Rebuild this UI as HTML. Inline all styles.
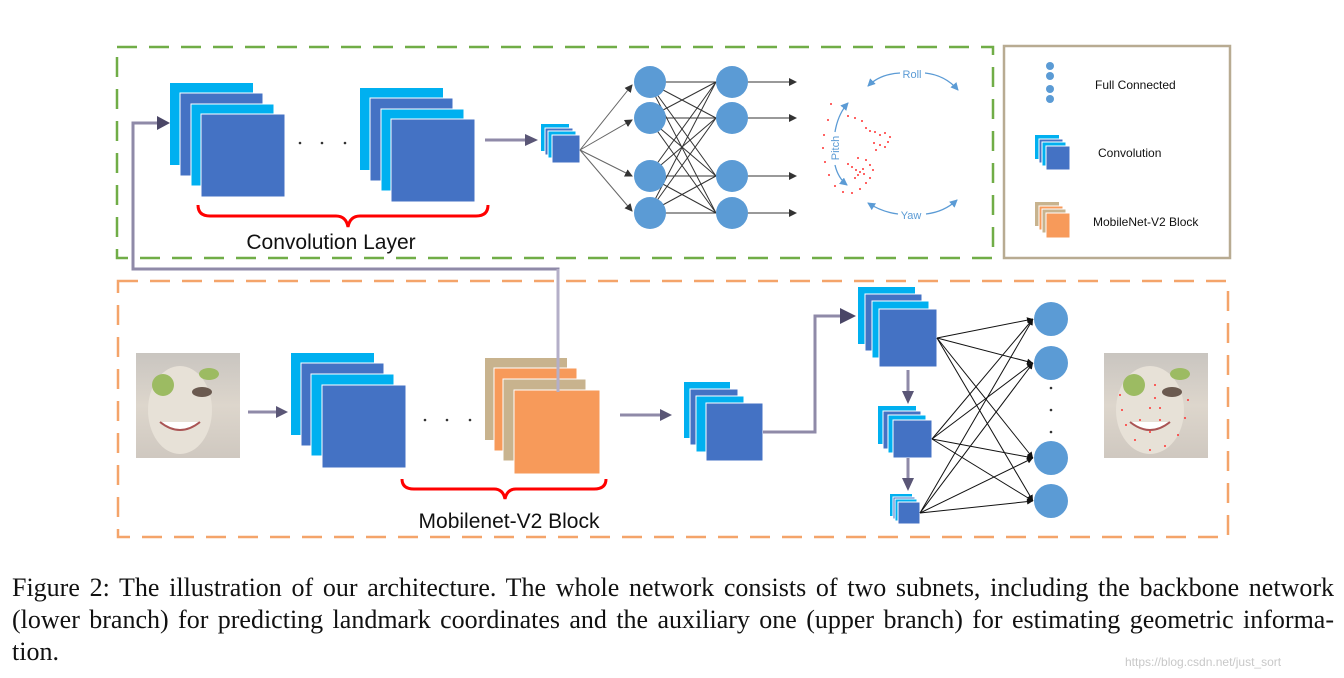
<!DOCTYPE html>
<html><head><meta charset="utf-8"><style>
body{margin:0;background:#fff;width:1344px;height:678px;overflow:hidden}
.cap{position:absolute;left:12px;width:1322px;font-family:"Liberation Serif",serif;font-size:26px;color:#111;white-space:nowrap;text-align:justify;text-align-last:justify}
</style></head><body>
<svg width="1344" height="678" style="position:absolute;left:0;top:0" font-family="Liberation Sans, sans-serif">
<defs>
<marker id="ah" markerWidth="8" markerHeight="8" refX="7" refY="4" orient="auto" markerUnits="userSpaceOnUse"><path d="M0,0 L8,4 L0,8z" fill="#333"/></marker>
<marker id="ahs" markerWidth="6" markerHeight="6" refX="6" refY="3" orient="auto" markerUnits="userSpaceOnUse"><path d="M0,0 L6,3 L0,6z" fill="#111"/></marker>
<marker id="ahb" markerWidth="8" markerHeight="8" refX="7" refY="4" orient="auto" markerUnits="userSpaceOnUse"><path d="M0,0 L8,4 L0,8z" fill="#5b9bd5"/></marker>
<linearGradient id="face" x1="0" y1="0" x2="0" y2="1"><stop offset="0" stop-color="#c9c5c0"/><stop offset="0.5" stop-color="#ddd6cc"/><stop offset="1" stop-color="#cfc8c0"/></linearGradient>
</defs>
<rect x="117" y="47" width="876" height="211" fill="none" stroke="#70ad47" stroke-width="2.5" stroke-dasharray="20,12"/>
<rect x="1004" y="46" width="226" height="212" fill="none" stroke="#b8ab92" stroke-width="2.5"/>
<rect x="118" y="281" width="1110" height="256" fill="none" stroke="#f4a46a" stroke-width="2.5" stroke-dasharray="20,12"/>
<polyline points="558,392 558,269 133,269 133,123 160,123" fill="none" stroke="#8f8aa8" stroke-width="3"/>
<path d="M157,116 L170,123 L157,130z" fill="#4a4666"/>
<rect x="170" y="83" width="83" height="82" fill="#00b0f0"/><rect x="180" y="93" width="83" height="83" fill="#4472c4" stroke="#fff"/>
<rect x="191" y="104" width="83" height="82" fill="#00b0f0" stroke="#fff"/><rect x="201" y="114" width="84" height="83" fill="#4472c4" stroke="#fff"/>
<rect x="360" y="88" width="83" height="82" fill="#00b0f0"/><rect x="370" y="98" width="83" height="83" fill="#4472c4" stroke="#fff"/>
<rect x="381" y="109" width="83" height="82" fill="#00b0f0" stroke="#fff"/><rect x="391" y="119" width="84" height="83" fill="#4472c4" stroke="#fff"/>
<circle cx="300" cy="143" r="1.3" fill="#333"/><circle cx="322" cy="143" r="1.3" fill="#333"/><circle cx="345" cy="143" r="1.3" fill="#333"/>
<path d="M198,205 Q198,216 210,216 L336,216 Q346,216 348,227 Q350,216 360,216 L476,216 Q488,216 488,205" fill="none" stroke="#ff0000" stroke-width="3"/>
<text x="331" y="249" font-size="21" text-anchor="middle" fill="#111">Convolution Layer</text>
<line x1="485" y1="140" x2="528" y2="140" stroke="#8f8aa8" stroke-width="3"/><path d="M525,134 L538,140 L525,146z" fill="#5a5676"/>
<rect x="541" y="124" width="28" height="27" fill="#00b0f0"/><rect x="545" y="128" width="28" height="27" fill="#4472c4" stroke="#fff"/>
<rect x="548" y="131" width="28" height="27" fill="#00b0f0" stroke="#fff"/><rect x="552" y="135" width="28" height="28" fill="#4472c4" stroke="#fff"/>
<g stroke="#666" stroke-width="1">
<line x1="580" y1="150" x2="632" y2="85" marker-end="url(#ah)"/><line x1="580" y1="150" x2="632" y2="120" marker-end="url(#ah)"/>
<line x1="580" y1="150" x2="632" y2="176" marker-end="url(#ah)"/><line x1="580" y1="150" x2="632" y2="211" marker-end="url(#ah)"/>
</g>
<g stroke="#333" stroke-width="1">
<line x1="648" y1="82" x2="716" y2="82"/><line x1="648" y1="82" x2="716" y2="118"/><line x1="648" y1="82" x2="716" y2="176"/><line x1="648" y1="82" x2="716" y2="213"/>
<line x1="648" y1="118" x2="716" y2="82"/><line x1="648" y1="118" x2="716" y2="118"/><line x1="648" y1="118" x2="716" y2="176"/><line x1="648" y1="118" x2="716" y2="213"/>
<line x1="648" y1="176" x2="716" y2="82"/><line x1="648" y1="176" x2="716" y2="118"/><line x1="648" y1="176" x2="716" y2="176"/><line x1="648" y1="176" x2="716" y2="213"/>
<line x1="648" y1="213" x2="716" y2="82"/><line x1="648" y1="213" x2="716" y2="118"/><line x1="648" y1="213" x2="716" y2="176"/><line x1="648" y1="213" x2="716" y2="213"/>
<line x1="732" y1="82" x2="796" y2="82" marker-end="url(#ah)"/><line x1="732" y1="118" x2="796" y2="118" marker-end="url(#ah)"/>
<line x1="732" y1="176" x2="796" y2="176" marker-end="url(#ah)"/><line x1="732" y1="213" x2="796" y2="213" marker-end="url(#ah)"/>
</g>
<g fill="#5b9bd5">
<circle cx="650" cy="82" r="16"/><circle cx="650" cy="118" r="16"/><circle cx="650" cy="176" r="16"/><circle cx="650" cy="213" r="16"/>
<circle cx="732" cy="82" r="16"/><circle cx="732" cy="118" r="16"/><circle cx="732" cy="176" r="16"/><circle cx="732" cy="213" r="16"/>
</g>
<g fill="none" stroke="#5b9bd5" stroke-width="1.3">
<path d="M900,73 Q880,74 868,86" marker-end="url(#ahb)"/><path d="M925,73 Q945,75 958,90" marker-end="url(#ahb)"/>
<path d="M835,132 Q838,114 848,103" marker-end="url(#ahb)"/><path d="M835,165 Q838,178 847,185" marker-end="url(#ahb)"/>
<path d="M898,214 Q882,212 868,203" marker-end="url(#ahb)"/><path d="M926,214 Q944,212 957,200" marker-end="url(#ahb)"/>
</g>
<text x="912" y="78" font-size="11" fill="#5b9bd5" text-anchor="middle">Roll</text>
<text x="911" y="219" font-size="11" fill="#5b9bd5" text-anchor="middle">Yaw</text>
<text transform="translate(839,148) rotate(-90)" font-size="11" fill="#5b9bd5" text-anchor="middle">Pitch</text>
<g fill="#f33">
<circle cx="831" cy="104" r="1"/><circle cx="828" cy="120" r="1"/><circle cx="824" cy="135" r="1"/><circle cx="823" cy="148" r="1"/><circle cx="825" cy="162" r="1"/><circle cx="829" cy="175" r="1"/><circle cx="835" cy="186" r="1"/><circle cx="843" cy="192" r="1"/><circle cx="852" cy="193" r="1"/>
<circle cx="848" cy="116" r="1"/><circle cx="855" cy="118" r="1"/><circle cx="862" cy="121" r="1"/><circle cx="866" cy="128" r="1"/><circle cx="870" cy="131" r="1"/><circle cx="875" cy="132" r="1"/><circle cx="880" cy="135" r="1"/><circle cx="885" cy="133" r="1"/><circle cx="890" cy="137" r="1"/>
<circle cx="874" cy="143" r="1"/><circle cx="880" cy="145" r="1"/><circle cx="885" cy="147" r="1"/><circle cx="888" cy="142" r="1"/><circle cx="876" cy="150" r="1"/>
<circle cx="858" cy="158" r="1"/><circle cx="866" cy="160" r="1"/><circle cx="870" cy="165" r="1"/><circle cx="873" cy="170" r="1"/>
<circle cx="848" cy="164" r="1"/><circle cx="852" cy="167" r="1"/><circle cx="856" cy="170" r="1"/><circle cx="860" cy="172" r="1"/><circle cx="863" cy="169" r="1"/><circle cx="858" cy="175" r="1"/><circle cx="864" cy="174" r="1"/><circle cx="855" cy="178" r="1"/><circle cx="870" cy="178" r="1"/><circle cx="866" cy="183" r="1"/>
<circle cx="860" cy="189" r="1"/>
</g>
<g fill="#5b9bd5"><circle cx="1050" cy="66" r="4"/><circle cx="1050" cy="76" r="4"/><circle cx="1050" cy="89" r="4"/><circle cx="1050" cy="99" r="4"/></g>
<text x="1095" y="89" font-size="12" fill="#111">Full Connected</text>
<rect x="1035" y="135" width="24" height="24" fill="#00b0f0"/><rect x="1039" y="139" width="24" height="24" fill="#4472c4" stroke="#fff"/>
<rect x="1042" y="142" width="24" height="24" fill="#00b0f0" stroke="#fff"/><rect x="1046" y="146" width="24" height="24" fill="#4472c4" stroke="#fff"/>
<text x="1098" y="157" font-size="12" fill="#111">Convolution</text>
<rect x="1035" y="202" width="24" height="24" fill="#c8b38e"/><rect x="1039" y="206" width="24" height="24" fill="#f79a5a" stroke="#fff"/>
<rect x="1042" y="209" width="24" height="24" fill="#c8b38e" stroke="#fff"/><rect x="1046" y="213" width="24" height="25" fill="#f79a5a" stroke="#fff"/>
<text x="1093" y="226" font-size="12" fill="#111">MobileNet-V2 Block</text>
<g>
<rect x="136" y="353" width="104" height="105" fill="url(#face)"/>
<ellipse cx="180" cy="410" rx="32" ry="44" fill="#e7e1d7"/>
<circle cx="163" cy="385" r="11" fill="#9cbb62"/><ellipse cx="209" cy="374" rx="10" ry="6" fill="#9cbb62"/>
<ellipse cx="202" cy="392" rx="10" ry="5" fill="#6b5a50"/>
<path d="M160,422 Q180,438 200,422" fill="#fff" stroke="#a55" stroke-width="2"/>
</g>
<line x1="248" y1="412" x2="278" y2="412" stroke="#8f8aa8" stroke-width="3"/><path d="M276,406 L288,412 L276,418z" fill="#5a5676"/>
<rect x="291" y="353" width="83" height="82" fill="#00b0f0"/><rect x="301" y="363" width="83" height="83" fill="#4472c4" stroke="#fff"/>
<rect x="311" y="374" width="83" height="82" fill="#00b0f0" stroke="#fff"/><rect x="322" y="385" width="84" height="83" fill="#4472c4" stroke="#fff"/>
<circle cx="425" cy="420" r="1.3" fill="#333"/><circle cx="447" cy="420" r="1.3" fill="#333"/><circle cx="470" cy="420" r="1.3" fill="#333"/>
<rect x="485" y="358" width="82" height="82" fill="#c8b38e"/><rect x="494" y="368" width="83" height="83" fill="#f79a5a" stroke="#fff"/>
<rect x="503" y="379" width="83" height="82" fill="#c8b38e" stroke="#fff"/><rect x="514" y="390" width="86" height="84" fill="#f79a5a" stroke="#fff"/>
<line x1="558" y1="269" x2="558" y2="392" stroke="#b4afc8" stroke-width="3"/>
<path d="M402,479 Q402,489 414,489 L494,489 Q503,489 505,499 Q507,489 516,489 L594,489 Q606,489 606,479" fill="none" stroke="#ff0000" stroke-width="3"/>
<text x="509" y="528" font-size="21" text-anchor="middle" fill="#111">Mobilenet-V2 Block</text>
<line x1="620" y1="415" x2="662" y2="415" stroke="#8f8aa8" stroke-width="3"/><path d="M660,409 L672,415 L660,421z" fill="#5a5676"/>
<rect x="684" y="382" width="46" height="56" fill="#00b0f0"/><rect x="690" y="389" width="48" height="56" fill="#4472c4" stroke="#fff"/>
<rect x="696" y="396" width="48" height="56" fill="#00b0f0" stroke="#fff"/><rect x="706" y="403" width="57" height="58" fill="#4472c4" stroke="#fff"/>
<polyline points="763,432 815,432 815,316 842,316" fill="none" stroke="#8f8aa8" stroke-width="3"/>
<path d="M840,308 L856,316 L840,324z" fill="#4a4666"/>
<rect x="858" y="287" width="57" height="57" fill="#00b0f0"/><rect x="865" y="294" width="57" height="57" fill="#4472c4" stroke="#fff"/>
<rect x="872" y="301" width="57" height="57" fill="#00b0f0" stroke="#fff"/><rect x="879" y="309" width="58" height="58" fill="#4472c4" stroke="#fff"/>
<line x1="908" y1="370" x2="908" y2="393" stroke="#8f8aa8" stroke-width="3"/><path d="M902,391 L908,404 L914,391z" fill="#5a5676"/>
<rect x="878" y="406" width="38" height="38" fill="#00b0f0"/><rect x="883" y="411" width="38" height="38" fill="#4472c4" stroke="#fff"/>
<rect x="888" y="415" width="38" height="38" fill="#00b0f0" stroke="#fff"/><rect x="893" y="420" width="39" height="38" fill="#4472c4" stroke="#fff"/>
<line x1="908" y1="458" x2="908" y2="480" stroke="#8f8aa8" stroke-width="3"/><path d="M902,478 L908,491 L914,478z" fill="#5a5676"/>
<rect x="890" y="494" width="22" height="22" fill="#00b0f0"/><rect x="893" y="497" width="22" height="22" fill="#4472c4" stroke="#fff"/>
<rect x="895" y="499" width="22" height="22" fill="#00b0f0" stroke="#fff"/><rect x="898" y="502" width="22" height="22" fill="#4472c4" stroke="#fff"/>
<g stroke="#111" stroke-width="1">
<line x1="937" y1="338" x2="1033" y2="319" marker-end="url(#ahs)"/><line x1="937" y1="338" x2="1033" y2="363" marker-end="url(#ahs)"/><line x1="937" y1="338" x2="1033" y2="458" marker-end="url(#ahs)"/><line x1="937" y1="338" x2="1033" y2="501" marker-end="url(#ahs)"/>
<line x1="932" y1="439" x2="1033" y2="319" marker-end="url(#ahs)"/><line x1="932" y1="439" x2="1033" y2="363" marker-end="url(#ahs)"/><line x1="932" y1="439" x2="1033" y2="458" marker-end="url(#ahs)"/><line x1="932" y1="439" x2="1033" y2="501" marker-end="url(#ahs)"/>
<line x1="920" y1="513" x2="1033" y2="319" marker-end="url(#ahs)"/><line x1="920" y1="513" x2="1033" y2="363" marker-end="url(#ahs)"/><line x1="920" y1="513" x2="1033" y2="458" marker-end="url(#ahs)"/><line x1="920" y1="513" x2="1033" y2="501" marker-end="url(#ahs)"/>
</g>
<g fill="#5b9bd5"><circle cx="1051" cy="319" r="17"/><circle cx="1051" cy="363" r="17"/><circle cx="1051" cy="458" r="17"/><circle cx="1051" cy="501" r="17"/></g>
<g fill="#333"><circle cx="1051" cy="388" r="1.3"/><circle cx="1051" cy="410" r="1.3"/><circle cx="1051" cy="432" r="1.3"/></g>
<g>
<rect x="1104" y="353" width="104" height="105" fill="url(#face)"/>
<ellipse cx="1150" cy="410" rx="34" ry="44" fill="#e7e1d7"/>
<circle cx="1134" cy="385" r="11" fill="#9cbb62"/><ellipse cx="1180" cy="374" rx="10" ry="6" fill="#9cbb62"/>
<ellipse cx="1172" cy="392" rx="10" ry="5" fill="#6b5a50"/>
<path d="M1130,422 Q1150,438 1170,422" fill="#fff" stroke="#a55" stroke-width="2"/>
<g fill="#f33"><circle cx="1120" cy="395" r="1"/><circle cx="1122" cy="410" r="1"/><circle cx="1126" cy="425" r="1"/><circle cx="1135" cy="440" r="1"/><circle cx="1150" cy="450" r="1"/><circle cx="1165" cy="446" r="1"/><circle cx="1178" cy="435" r="1"/><circle cx="1185" cy="418" r="1"/><circle cx="1188" cy="400" r="1"/><circle cx="1155" cy="385" r="1"/><circle cx="1155" cy="398" r="1"/><circle cx="1150" cy="408" r="1"/><circle cx="1160" cy="408" r="1"/><circle cx="1140" cy="420" r="1"/><circle cx="1160" cy="420" r="1"/><circle cx="1150" cy="432" r="1"/></g>
</g>
<text x="1125" y="666" font-size="12" fill="#c8c8c8">https://blog.csdn.net/just_sort</text>
</svg>
<div class="cap" style="top:573px">Figure 2: The illustration of our architecture. The whole network consists of two subnets, including the backbone network</div>
<div class="cap" style="top:605px">(lower branch) for predicting landmark coordinates and the auxiliary one (upper branch) for estimating geometric informa-</div>
<div class="cap" style="top:637px;text-align-last:left;width:auto">tion.</div>
</body></html>
